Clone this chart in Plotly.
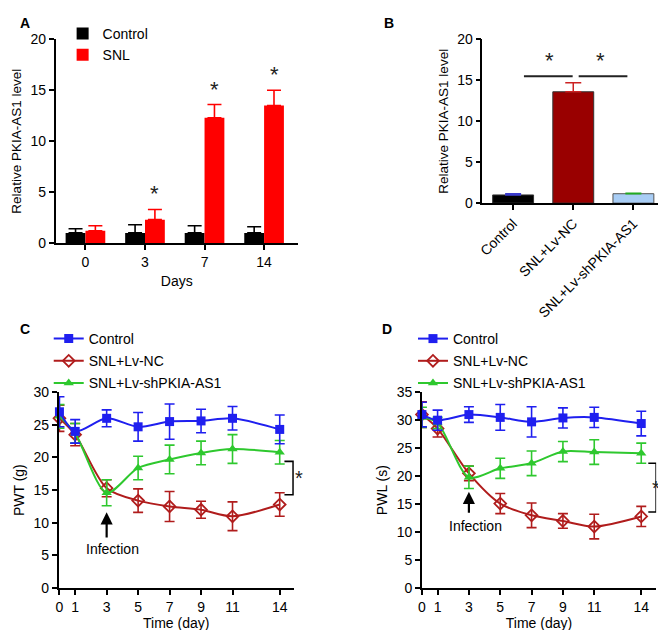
import plotly.graph_objects as go


# ==========================
# DATA
# ==========================

days_a = ["0", "3", "7", "14"]
ctrl_a = [1.0, 1.0, 1.0, 1.0]
ctrl_a_err = [0.4, 0.8, 0.7, 0.6]
snl_a = [1.2, 2.3, 12.3, 13.5]
snl_a_err = [0.5, 1.0, 1.3, 1.5]

groups_b = ["Control", "SNL+Lv-NC", "SNL+Lv-shPKIA-AS1"]
vals_b = [1.0, 13.6, 1.15]
err_b = [0.15, 1.1, 0.05]

time_days = [0, 1, 3, 5, 7, 9, 11, 14]

pwt_ctrl = [27.0, 24.0, 26.0, 24.7, 25.5, 25.6, 26.0, 24.3]
pwt_ctrl_err = [2.3, 1.8, 1.3, 2.2, 2.7, 1.8, 1.8, 2.2]
pwt_nc = [26.0, 23.5, 15.3, 13.4, 12.5, 12.0, 11.0, 12.8]
pwt_nc_err = [2.0, 1.7, 1.3, 1.8, 2.3, 1.3, 2.2, 1.8]
pwt_sh = [26.3, 23.7, 14.6, 18.4, 19.7, 20.7, 21.3, 20.8]
pwt_sh_err = [1.8, 1.5, 2.0, 1.8, 2.2, 1.8, 2.2, 1.8]

pwl_ctrl = [31.0, 30.0, 31.0, 30.5, 29.7, 30.4, 30.5, 29.4]
pwl_ctrl_err = [2.2, 1.8, 1.4, 2.3, 2.7, 1.8, 1.8, 2.2]
pwl_nc = [31.0, 28.5, 20.5, 15.1, 13.0, 12.0, 11.0, 12.8]
pwl_nc_err = [2.3, 1.5, 1.3, 1.8, 2.2, 1.3, 2.2, 1.8]
pwl_sh = [30.5, 29.5, 19.8, 21.4, 22.3, 24.4, 24.3, 24.1]
pwl_sh_err = [1.8, 1.0, 2.0, 1.8, 2.2, 1.8, 2.2, 1.8]


W, H = 666, 630
FONT = "Liberation Sans, Arial, sans-serif"

BLUE = "#1f1fef"
DARKRED = "#b01c1c"
GREEN = "#2ec82e"


def px_x(p):
    return p / W


def px_y(p):
    return 1 - p / H


def axis_style(**kw):

    base = dict(
        showline=True,
        linecolor="black",
        linewidth=1.6,
        ticks="outside",
        ticklen=5,
        tickwidth=1.5,
        tickcolor="black",
        showgrid=False,
        zeroline=False,
        tickfont=dict(size=14, color="black", family=FONT),
    )

    base.update(kw)

    return base


fig = go.Figure()


# ==========================
# PANEL A
# ==========================

pos_a = list(range(len(days_a)))

fig.add_trace(
    go.Bar(
        x=pos_a,
        y=ctrl_a,
        width=0.333,
        offset=-0.333,
        marker=dict(color="black", line=dict(width=0)),
        error_y=dict(
            type="data", symmetric=False, array=ctrl_a_err,
            arrayminus=[0] * len(ctrl_a), color="black",
            thickness=1.6, width=7
        ),
        name="Control",
        legend="legend",
        xaxis="x", yaxis="y"
    )
)

fig.add_trace(
    go.Bar(
        x=pos_a,
        y=snl_a,
        width=0.333,
        offset=0,
        marker=dict(color="#ff0000", line=dict(width=0)),
        error_y=dict(
            type="data", symmetric=False, array=snl_a_err,
            arrayminus=[0] * len(snl_a), color="#ff0000",
            thickness=1.6, width=7
        ),
        name="SNL",
        legend="legend",
        xaxis="x", yaxis="y"
    )
)

# stars over SNL bars (days 3, 7, 14)
for i in range(1, len(days_a)):

    fig.add_annotation(
        x=pos_a[i] + 0.167,
        y=snl_a[i] + snl_a_err[i] + 0.1,
        xref="x", yref="y",
        text="*", showarrow=False,
        yanchor="bottom",
        font=dict(size=22, color="#222", family=FONT)
    )


# ==========================
# PANEL B
# ==========================

bar_colors_b = ["black", "#990000", "#a8cdf5"]
bar_lines_b = ["#333333", "#333333", "#555555"]
err_colors_b = ["#3a3acc", "#cc2222", "#22aa22"]

for i, g in enumerate(groups_b):

    fig.add_trace(
        go.Bar(
            x=[i],
            y=[vals_b[i]],
            width=0.68,
            marker=dict(color=bar_colors_b[i],
                        line=dict(color=bar_lines_b[i], width=1)),
            error_y=dict(
                type="data", symmetric=False, array=[err_b[i]],
                arrayminus=[0], color=err_colors_b[i],
                thickness=1.5, width=8
            ),
            name=g,
            showlegend=False,
            xaxis="x2", yaxis="y2"
        )
    )

# significance lines
sig_b = [(0.18, 0.99, 0.6), (1.09, 1.9, 1.45)]

for x0, x1, xs in sig_b:

    fig.add_shape(
        type="line", xref="x2", yref="y2",
        x0=x0, x1=x1, y0=15.5, y1=15.5,
        line=dict(color="#222", width=2)
    )

    fig.add_annotation(
        x=xs, y=15.6, xref="x2", yref="y2",
        text="*", showarrow=False, yanchor="bottom",
        font=dict(size=22, color="#222", family=FONT)
    )


# ==========================
# PANELS C + D
# ==========================

def add_lines(xa, ya, ctrl, ctrl_err, nc, nc_err, sh, sh_err, leg):

    series = [
        ("SNL+Lv-NC", nc, nc_err, DARKRED,
         dict(symbol="diamond-open", size=9, color=DARKRED,
              line=dict(width=1.8, color=DARKRED))),
        ("SNL+Lv-shPKIA-AS1", sh, sh_err, GREEN,
         dict(symbol="triangle-up", size=9, color=GREEN)),
        ("Control", ctrl, ctrl_err, BLUE,
         dict(symbol="square", size=9, color=BLUE)),
    ]

    order = {"Control": 1, "SNL+Lv-NC": 2, "SNL+Lv-shPKIA-AS1": 3}

    for name, y, e, c, mk in series:

        fig.add_trace(
            go.Scatter(
                x=time_days,
                y=y,
                mode="lines+markers",
                line=dict(color=c, width=2, shape="spline", smoothing=0.8),
                marker=mk,
                error_y=dict(type="data", array=e, color=c,
                             thickness=1.6, width=5),
                name=name,
                legend=leg,
                legendrank=order[name],
                legendgroup=leg + name,
                cliponaxis=False,
                xaxis=xa, yaxis=ya
            )
        )


add_lines("x3", "y3", pwt_ctrl, pwt_ctrl_err, pwt_nc, pwt_nc_err,
          pwt_sh, pwt_sh_err, "legend2")

add_lines("x4", "y4", pwl_ctrl, pwl_ctrl_err, pwl_nc, pwl_nc_err,
          pwl_sh, pwl_sh_err, "legend3")


# infection arrows + brackets (star anchored at its right edge)
panels_cd = [
    ("x3", "y3", 7.5, 11.6, 3.35, 6.0, (14.3, 14.85, 19.4, 14.3), 1.045),
    ("x4", "y4", 13.2, 17.2, 3.4, 11.1, (14.45, 14.95, 22.3, 13.6), 1.02),
]

for xa, ya, a0, a1, tx, ty, br, sx in panels_cd:

    fig.add_annotation(
        x=3, y=a1, ax=3, ay=a0,
        xref=xa, yref=ya, axref=xa, ayref=ya,
        text="", showarrow=True,
        arrowhead=2, arrowsize=1.1, arrowwidth=2.2, arrowcolor="black"
    )

    fig.add_annotation(
        x=tx, y=ty, xref=xa, yref=ya,
        text="Infection", showarrow=False,
        font=dict(size=14, color="black", family=FONT)
    )

    bx0, bx1, by0, by1 = br

    fig.add_shape(
        type="path", xref=xa, yref=ya,
        path=f"M {bx0},{by0} L {bx1},{by0} L {bx1},{by1} L {bx0},{by1}",
        line=dict(color="black", width=1.6)
    )

    fig.add_annotation(
        x=sx, y=(by0 + by1) / 2, xref=xa + " domain", yref=ya,
        text="*", showarrow=False, yanchor="middle",
        xanchor="right", borderpad=0,
        font=dict(size=20, color="#222", family=FONT)
    )


# panel letters
for letter, lx, ly in [("A", 5, 7), ("B", 372, 7), ("C", 5, 321), ("D", 370, 321)]:

    fig.add_annotation(
        x=px_x(lx), y=px_y(ly), xref="paper", yref="paper",
        text=f"<b>{letter}</b>", showarrow=False,
        xanchor="left", yanchor="middle",
        font=dict(size=14, color="black", family=FONT)
    )


# ==========================
# LAYOUT
# ==========================

title_font = dict(size=14, color="black", family=FONT)

legend_base = dict(
    bgcolor="rgba(0,0,0,0)",
    font=dict(size=14, color="black", family=FONT),
    xanchor="left", yanchor="top",
    tracegroupgap=1,
    itemwidth=30,
)

fig.update_layout(

    width=W,
    height=H,
    margin=dict(l=0, r=0, t=0, b=0),
    paper_bgcolor="white",
    plot_bgcolor="white",
    barmode="overlay",
    font=dict(family=FONT, color="black"),

    xaxis=axis_style(
        domain=[px_x(43), px_x(287)],
        range=[-0.5, 3.567],
        tickvals=pos_a, ticktext=days_a,
        title=dict(text="Days", font=title_font, standoff=8),
        anchor="y",
    ),
    yaxis=axis_style(
        domain=[px_y(233), px_y(24)],
        range=[0, 20], dtick=5,
        title=dict(text="Relative PKIA-AS1 level", font=dict(size=13.5, color="black", family=FONT), standoff=6),
        anchor="x",
    ),

    xaxis2=axis_style(
        domain=[px_x(473), px_x(656)],
        range=[-0.51, 2.51],
        tickvals=list(range(len(groups_b))), ticktext=groups_b,
        tickangle=-45,
        tickfont=dict(size=14, color="black", family=FONT),
        anchor="y2",
    ),
    yaxis2=axis_style(
        domain=[px_y(192), px_y(24)],
        range=[0, 20], dtick=5,
        title=dict(text="Relative PKIA-AS1 level", font=dict(size=13.5, color="black", family=FONT), standoff=6),
        anchor="x2",
    ),

    xaxis3=axis_style(
        domain=[px_x(46), px_x(283)],
        range=[-0.05, 14.9],
        tickvals=time_days,
        title=dict(text="Time (day)", font=title_font, standoff=4),
        anchor="y3",
    ),
    yaxis3=axis_style(
        domain=[px_y(587), px_y(386)],
        range=[0, 30], dtick=5,
        title=dict(text="PWT (g)", font=title_font, standoff=6),
        anchor="x3",
    ),

    xaxis4=axis_style(
        domain=[px_x(412), px_x(648)],
        range=[0, 14.95],
        tickvals=time_days,
        title=dict(text="Time (day)", font=title_font, standoff=4),
        anchor="y4",
    ),
    yaxis4=axis_style(
        domain=[px_y(587), px_y(386)],
        range=[0, 35], dtick=5,
        title=dict(text="PWL (s)", font=title_font, standoff=6),
        anchor="x4",
    ),

    legend=dict(legend_base, x=px_x(50), y=px_y(2)),
    legend2=dict(legend_base, x=px_x(36), y=px_y(315)),
    legend3=dict(legend_base, x=px_x(403), y=px_y(315)),
)


fig.write_html("out.html")
